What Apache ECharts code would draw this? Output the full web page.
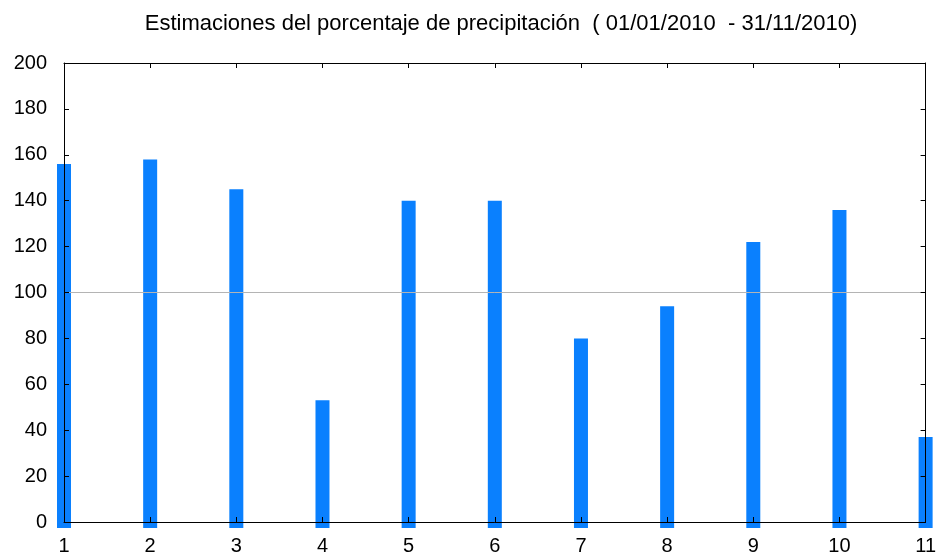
<!DOCTYPE html>
<html><head><meta charset="utf-8">
<script src="https://cdn.jsdelivr.net/npm/echarts@6/dist/echarts.min.js"></script>
<style>html,body{margin:0;padding:0;background:#fff}#c{width:939px;height:557px}</style>
</head><body><div id="c"></div>
<script>
const titleText = 'Estimaciones del porcentaje de precipitación  ( 01/01/2010  - 31/11/2010)';
const categories = [1, 2, 3, 4, 5, 6, 7, 8, 9, 10, 11];
const values = [156, 158, 145, 53, 140, 140, 80, 94, 122, 136, 37];
const referenceLevel = 100;

const chart = echarts.init(document.getElementById('c'));
const font = 'Liberation Sans, Arial, sans-serif';
const axisCommon = {
  min: 1, max: 11, interval: 1, z: 5,
  axisLine: {show: true, onZero: false, lineStyle: {color: '#000', width: 1}},
  axisTick: {show: true, inside: true, length: 5, lineStyle: {color: '#000'}},
  splitLine: {show: false}
};
const yCommon = {
  type: 'value', min: 0, max: 200, interval: 20, z: 5,
  axisLine: {show: true, onZero: false, lineStyle: {color: '#000'}},
  axisTick: {show: true, inside: true, length: 5, lineStyle: {color: '#000'}},
  splitLine: {show: false}
};
chart.setOption({
  animation: false,
  title: {text: titleText, left: 496, textAlign: 'center', top: 8,
    textStyle: {fontFamily: font, fontSize: 22, fontWeight: 'normal', color: '#000'}},
  grid: {left: 64, top: 63, width: 865, height: 459, show: false},
  xAxis: [
    Object.assign({type: 'value', position: 'bottom',
      axisLabel: {fontFamily: font, fontSize: 20, color: '#000', margin: 14}}, axisCommon),
    Object.assign({type: 'value', position: 'top', axisLabel: {show: false}}, axisCommon)
  ],
  yAxis: [
    Object.assign({position: 'left',
      axisLabel: {fontFamily: font, fontSize: 20, color: '#000', margin: 17}}, yCommon),
    Object.assign({position: 'right', axisLabel: {show: false}}, yCommon)
  ],
  series: [{
    type: 'custom', clip: false, z: 2,
    data: categories.map((c, i) => [c, values[i]]),
    renderItem: function (params, api) {
      const top = api.coord([api.value(0), api.value(1)]);
      const base = api.coord([api.value(0), 0]);
      return {type: 'rect',
        shape: {x: top[0] - 7, y: top[1], width: 14, height: base[1] - top[1] + 6},
        style: {fill: '#0a80fe'}};
    },
    markLine: {silent: true, symbol: 'none', label: {show: false},
      lineStyle: {color: '#b4b4b4', type: 'solid', width: 1},
      data: [{yAxis: referenceLevel}]}
  }]
});
</script></body></html>
